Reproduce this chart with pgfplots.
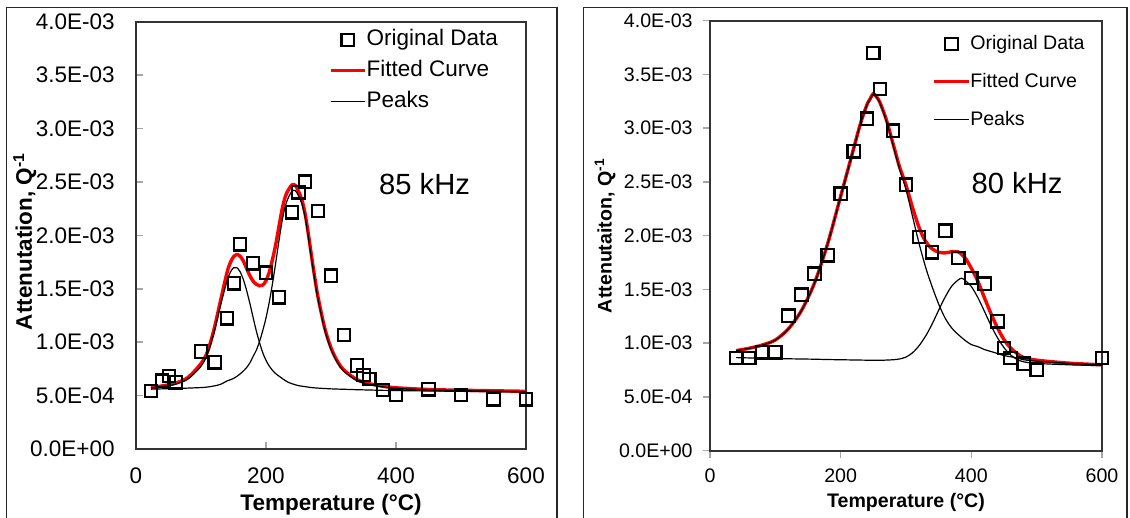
\documentclass[border=0pt]{standalone}
\usepackage{fontspec}
\setmainfont{Liberation Sans}
\usepackage{pgfplots}
\pgfplotsset{compat=1.18}

\newcommand{\tickfont}{\fontsize{11.25}{13}\selectfont}
\newcommand{\smallfont}{\fontsize{9.8}{11.5}\selectfont}
\pgfplotsset{
  chart/.style={
    scale only axis,
    xmin=0, xmax=600, ymin=0, ymax=4,
    axis line style={black!80, line width=1pt},
    xtick={0,200,400,600}, xticklabels={0,200,400,600},
    ytick={0,0.5,1,1.5,2,2.5,3,3.5,4},
    yticklabels={0.0E+00,5.0E-04,1.0E-03,1.5E-03,2.0E-03,2.5E-03,3.0E-03,3.5E-03,4.0E-03},
    scaled y ticks=false,
    tick pos=left,
    major tick length=3.5pt,
    every tick/.style={black!35, line width=0.75pt},
    yticklabel style={anchor=east},
    xticklabel style={anchor=north},
    legend cell align=left,
  },
  datamark/.style={only marks, mark=square, mark size=3.1pt, mark options={black, line width=1.1pt, fill=none}},
  fitline/.style={red, line width=1.7pt, smooth, mark=none},
  peakline/.style={black, line width=0.6pt, smooth, mark=none},
}

\begin{document}
\begin{tikzpicture}
\useasboundingbox (0,0) rectangle (565pt,259pt);
\draw[black!85, line width=0.75pt] (3.2pt,-3pt) -- (3.2pt,255.35pt) -- (278.6pt,255.35pt) -- (278.6pt,-3pt);
\draw[black!85, line width=0.75pt] (291.65pt,-3pt) -- (291.65pt,255.35pt) -- (563.6pt,255.35pt) -- (563.6pt,-3pt);

% ---------------- left panel: 85 kHz ----------------
\begin{axis}[chart,
  at={(68pt,34.5pt)}, anchor=south west,
  width=195pt, height=213.65pt,
  tick align=inside,
  tick label style={font=\tickfont, inner sep=0pt},
  yticklabel style={xshift=-10.5pt},
  xticklabel style={yshift=-9pt},
  xlabel={Temperature (°C)},
  every axis x label/.style={at={(axis description cs:0.5,0)}, anchor=north, yshift=-22.5pt, inner sep=0pt, font=\bfseries\tickfont},
  every axis y label/.style={at={([xshift=-52pt,yshift=-3pt]axis description cs:0,0.5)}, rotate=90, anchor=base, inner sep=0pt, font=\bfseries\tickfont},
  ylabel={Attenutation, Q\textsuperscript{-1}},
  legend style={at={(axis cs:296.3,3.937)}, anchor=north west, draw=none, fill=none, inner sep=0pt, row sep=4.4pt, font=\tickfont,
    nodes={inner sep=0pt, text height=8.5pt, text depth=2.5pt}},
]
\addplot[datamark] table {
x y
23 0.544
40 0.640
51 0.684
61 0.625
100 0.912
121 0.812
140 1.224
151 1.552
160 1.917
180 1.739
200 1.651
220 1.420
240 2.216
250 2.403
260 2.503
280 2.229
300 1.623
320 1.068
340 0.781
350 0.693
359 0.656
380 0.553
400 0.506
450 0.559
500 0.506
550 0.466
600 0.466
};
\addlegendentry{Original Data}
\addplot[fitline] table {
x y
23 0.575
40 0.590
60 0.615
80 0.670
100 0.800
110 0.911
120 1.119
130 1.387
140 1.651
145 1.743
150 1.799
155 1.820
160 1.806
165 1.762
170 1.693
175 1.625
180 1.572
185 1.542
190 1.528
195 1.535
200 1.575
205 1.655
210 1.775
215 1.915
220 2.085
225 2.250
230 2.369
235 2.431
240 2.472
245 2.469
250 2.413
255 2.336
260 2.208
265 2.020
270 1.808
275 1.606
280 1.424
290 1.141
300 0.947
310 0.820
320 0.738
340 0.649
360 0.610
380 0.587
400 0.573
450 0.557
500 0.550
550 0.545
600 0.540
};
\addlegendentry{Fitted Curve}
\addplot[peakline] table {
x y
23 0.570
40 0.585
60 0.605
80 0.655
100 0.774
110 0.891
120 1.088
130 1.345
140 1.572
145 1.653
150 1.696
155 1.698
160 1.661
165 1.589
170 1.488
175 1.368
180 1.236
185 1.107
190 0.997
195 0.902
200 0.830
205 0.777
210 0.736
215 0.705
220 0.682
225 0.660
230 0.639
235 0.622
240 0.611
250 0.593
260 0.584
270 0.575
280 0.570
300 0.563
320 0.559
340 0.555
360 0.552
380 0.549
400 0.547
450 0.543
500 0.540
550 0.537
600 0.534
};
\addlegendentry{Peaks}
\addplot[peakline, forget plot] table {
x y
23 0.560
40 0.563
60 0.566
80 0.570
100 0.575
110 0.580
120 0.590
130 0.605
140 0.637
145 0.648
150 0.660
155 0.679
160 0.702
165 0.729
170 0.761
175 0.804
180 0.865
185 0.923
190 1.006
195 1.108
200 1.227
205 1.374
210 1.550
215 1.745
220 1.952
225 2.143
230 2.282
235 2.361
240 2.413
245 2.419
250 2.371
255 2.299
260 2.175
265 1.990
270 1.783
275 1.584
280 1.403
290 1.124
300 0.932
310 0.807
320 0.726
340 0.640
360 0.603
380 0.581
400 0.568
450 0.553
500 0.546
550 0.541
600 0.536
};
\node[font=\fontsize{14.6}{17}\selectfont, inner sep=0pt] at (axis cs:444,2.48) {85 kHz};
\end{axis}

% ---------------- right panel: 80 kHz ----------------
\begin{axis}[chart,
  at={(355pt,33.65pt)}, anchor=south west,
  width=196pt, height=215pt,
  tick align=outside,
  tick label style={font=\smallfont, inner sep=0pt},
  yticklabel style={xshift=-5pt},
  xticklabel style={yshift=-5.3pt},
  xlabel={Temperature (°C)},
  every axis x label/.style={at={(axis description cs:0.5,0)}, anchor=north, yshift=-21pt, inner sep=0pt, font=\bfseries\smallfont},
  every axis y label/.style={at={([xshift=-49.25pt]axis description cs:0,0.5)}, rotate=90, anchor=base, inner sep=0pt, font=\bfseries\smallfont},
  ylabel={Attenutaiton, Q\textsuperscript{-1}},
  legend style={at={(axis cs:340.3,3.891)}, anchor=north west, draw=none, fill=none, inner sep=0pt, row sep=7.9pt, font=\smallfont,
    nodes={inner sep=0pt, text height=8.5pt, text depth=2.5pt}},
]
\addplot[datamark] table {
x y
40 0.862
60 0.862
80 0.915
100 0.915
120 1.256
140 1.451
160 1.647
180 1.817
200 2.391
220 2.785
240 3.088
250 3.700
260 3.364
280 2.977
300 2.474
320 1.988
340 1.845
360 2.047
380 1.792
400 1.606
420 1.553
440 1.203
450 0.955
460 0.862
480 0.809
500 0.753
600 0.862
};
\addlegendentry{Original Data}
\addplot[fitline] table {
x y
40 0.931
60 0.953
80 0.983
100 1.030
120 1.134
140 1.304
160 1.561
180 1.924
200 2.367
210 2.590
220 2.814
230 3.037
240 3.215
245 3.272
250 3.321
255 3.291
260 3.241
270 3.077
280 2.860
290 2.643
300 2.471
310 2.261
320 2.077
330 1.946
340 1.878
350 1.847
360 1.840
370 1.851
380 1.849
390 1.797
400 1.697
410 1.576
420 1.424
430 1.276
440 1.143
450 1.034
460 0.956
470 0.904
480 0.867
500 0.842
550 0.814
600 0.799
};
\addlegendentry{Fitted Curve}
\addplot[peakline] table {
x y
40 0.930
60 0.952
80 0.982
100 1.029
120 1.133
140 1.303
160 1.559
180 1.922
200 2.365
210 2.587
220 2.811
230 3.034
240 3.211
245 3.268
250 3.317
255 3.286
260 3.236
270 3.068
280 2.847
290 2.622
300 2.430
310 2.179
320 1.928
330 1.707
340 1.525
350 1.364
360 1.232
370 1.141
380 1.080
390 1.028
400 0.987
410 0.968
420 0.941
430 0.923
440 0.904
450 0.885
460 0.874
470 0.863
480 0.846
500 0.833
550 0.812
600 0.798
};
\addlegendentry{Peaks}
\addplot[peakline, forget plot] table {
x y
40 0.866
60 0.863
80 0.861
100 0.858
120 0.855
140 0.853
160 0.851
180 0.848
200 0.846
220 0.844
240 0.842
260 0.841
270 0.843
280 0.846
290 0.853
300 0.871
310 0.911
320 0.977
330 1.066
340 1.178
350 1.307
360 1.430
370 1.531
380 1.589
385 1.604
390 1.587
400 1.527
410 1.424
420 1.297
430 1.166
440 1.051
450 0.959
460 0.891
470 0.849
480 0.827
500 0.812
550 0.799
600 0.791
};
\node[font=\fontsize{14.6}{17}\selectfont, inner sep=0pt] at (axis cs:470,2.487) {80 kHz};
\end{axis}
\end{tikzpicture}
\end{document}
